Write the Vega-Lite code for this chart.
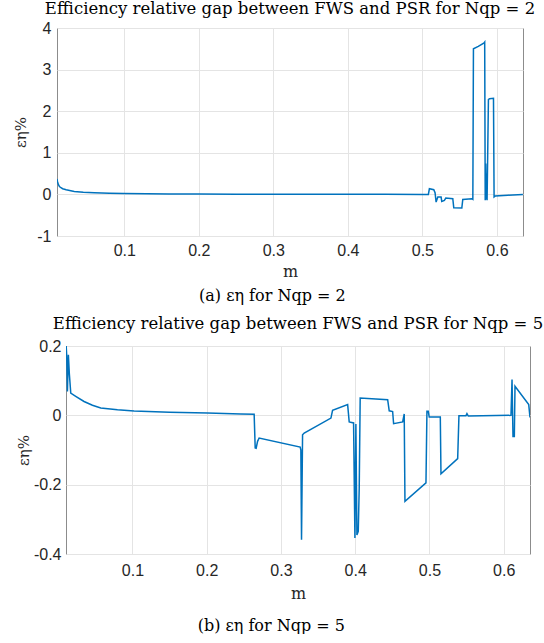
{
  "$schema": "https://vega.github.io/schema/vega-lite/v6.json",
  "padding": {"top": 0, "left": 9, "right": 0, "bottom": 0},
  "background": "white",
  "config": {
    "view": {"stroke": "#8c8c8c", "strokeWidth": 1},
    "axis": {
      "domain": false,
      "ticks": false,
      "grid": true,
      "gridColor": "#e4e4e4",
      "gridWidth": 1,
      "labelFont": "Liberation Sans",
      "labelFontSize": 16,
      "labelColor": "#262626",
      "titleFont": "DejaVu Serif",
      "titleFontWeight": "normal",
      "titleColor": "#262626",
      "titleFontSize": 15
    },
    "title": {"font": "DejaVu Serif", "fontWeight": "normal", "fontSize": 16.5, "color": "#000000"}
  },
  "spacing": 11,
  "vconcat": [
    {
      "title": {"text": "(a) εη for Nqp = 2", "orient": "bottom", "anchor": "middle", "font": "DejaVu Serif", "fontSize": 16, "fontWeight": "normal", "offset": 8},
      "spacing": 0,
      "hconcat": [
        {
          "width": 3.3,
          "height": 208,
          "view": {"stroke": null},
          "data": {"values": []},
          "mark": "point"
        },
        {
          "title": {"text": "Efficiency relative gap between FWS and PSR for Nqp = 2", "offset": 3},
          "width": 466,
          "height": 208,
          "data": {"values": [
            {"m": 0.0097, "e": 0.37}, {"m": 0.0105, "e": 0.30}, {"m": 0.0115, "e": 0.24}, {"m": 0.013, "e": 0.19},
            {"m": 0.015, "e": 0.16}, {"m": 0.0173, "e": 0.137}, {"m": 0.022, "e": 0.11}, {"m": 0.0329, "e": 0.072},
            {"m": 0.045, "e": 0.053}, {"m": 0.0597, "e": 0.040}, {"m": 0.08, "e": 0.03}, {"m": 0.0996, "e": 0.022},
            {"m": 0.13, "e": 0.016}, {"m": 0.16, "e": 0.012}, {"m": 0.2, "e": 0.009}, {"m": 0.25, "e": 0.006},
            {"m": 0.3, "e": 0.004}, {"m": 0.35, "e": 0.003}, {"m": 0.4, "e": 0.002}, {"m": 0.45, "e": 0.001},
            {"m": 0.5, "e": 0.0}, {"m": 0.508, "e": 0.0}, {"m": 0.5094, "e": 0.136}, {"m": 0.5153, "e": 0.112},
            {"m": 0.517, "e": 0.04}, {"m": 0.5184, "e": -0.184}, {"m": 0.5207, "e": -0.064}, {"m": 0.5251, "e": -0.064},
            {"m": 0.526, "e": -0.168}, {"m": 0.5295, "e": -0.144}, {"m": 0.5314, "e": -0.088}, {"m": 0.5408, "e": -0.104},
            {"m": 0.5421, "e": -0.32}, {"m": 0.5529, "e": -0.328}, {"m": 0.5542, "e": -0.12}, {"m": 0.5663, "e": -0.104},
            {"m": 0.5677, "e": -0.12}, {"m": 0.5685, "e": 3.50}, {"m": 0.575, "e": 3.56}, {"m": 0.5828, "e": 3.64},
            {"m": 0.5836, "e": 3.66}, {"m": 0.5843, "e": -0.14}, {"m": 0.585, "e": 0.74}, {"m": 0.5856, "e": -0.12},
            {"m": 0.5862, "e": 0.5}, {"m": 0.5868, "e": -0.14}, {"m": 0.5886, "e": 2.28}, {"m": 0.59, "e": 2.30},
            {"m": 0.5954, "e": 2.31}, {"m": 0.5962, "e": -0.06}, {"m": 0.5975, "e": -0.04}, {"m": 0.6146, "e": -0.02},
            {"m": 0.6349, "e": 0.0}
          ]},
          "mark": {"type": "line", "color": "#0072BD", "strokeWidth": 1.5, "clip": true},
          "encoding": {
            "x": {"field": "m", "type": "quantitative", "scale": {"domain": [0.0097, 0.635], "nice": false, "zero": false},
                  "axis": {"values": [0.1, 0.2, 0.3, 0.4, 0.5, 0.6], "labelExpr": "'' + datum.value", "title": "m", "labelPadding": 6, "titlePadding": 5, "titleFontSize": 16}},
            "y": {"field": "e", "type": "quantitative", "scale": {"domain": [-1, 4], "nice": false},
                  "axis": {"values": [-1, 0, 1, 2, 3, 4], "labelExpr": "'' + datum.value", "title": "εη%", "labelPadding": 6, "titlePadding": 8}}
          }
        }
      ]
    },
    {
      "title": {"text": "(b) εη for Nqp = 5", "orient": "bottom", "anchor": "middle", "dx": -5, "font": "DejaVu Serif", "fontSize": 16, "fontWeight": "normal", "offset": 16},
      "spacing": 0,
      "hconcat": [
        {
          "width": 5.4,
          "height": 208,
          "view": {"stroke": null},
          "data": {"values": []},
          "mark": "point"
        },
        {
          "title": {"text": "Efficiency relative gap between FWS and PSR for Nqp = 5", "offset": 6},
          "width": 464,
          "height": 208,
          "data": {"values": [
            {"m": 0.0105, "e": 0.21}, {"m": 0.0115, "e": 0.17}, {"m": 0.0124, "e": 0.069}, {"m": 0.0137, "e": 0.175},
            {"m": 0.015, "e": 0.12}, {"m": 0.0169, "e": 0.064}, {"m": 0.0236, "e": 0.055}, {"m": 0.0348, "e": 0.040},
            {"m": 0.0461, "e": 0.029}, {"m": 0.0573, "e": 0.021}, {"m": 0.0798, "e": 0.016}, {"m": 0.1022, "e": 0.0125},
            {"m": 0.15, "e": 0.009}, {"m": 0.2011, "e": 0.0066}, {"m": 0.246, "e": 0.004}, {"m": 0.2639, "e": 0.003},
            {"m": 0.2653, "e": -0.094}, {"m": 0.2666, "e": -0.095}, {"m": 0.2685, "e": -0.075}, {"m": 0.2706, "e": -0.0655},
            {"m": 0.3259, "e": -0.0915}, {"m": 0.3268, "e": -0.10}, {"m": 0.3277, "e": -0.359}, {"m": 0.3291, "e": -0.056},
            {"m": 0.3313, "e": -0.051}, {"m": 0.3673, "e": -0.0078}, {"m": 0.3695, "e": 0.0144}, {"m": 0.3898, "e": 0.031},
            {"m": 0.3919, "e": -0.019}, {"m": 0.3978, "e": -0.022}, {"m": 0.3996, "e": -0.354}, {"m": 0.4009, "e": -0.025},
            {"m": 0.4023, "e": -0.345}, {"m": 0.4041, "e": -0.335}, {"m": 0.4054, "e": -0.21}, {"m": 0.4067, "e": 0.05},
            {"m": 0.4437, "e": 0.045}, {"m": 0.4458, "e": 0.013}, {"m": 0.4504, "e": 0.011}, {"m": 0.4517, "e": -0.024},
            {"m": 0.4639, "e": -0.019}, {"m": 0.466, "e": 0.004}, {"m": 0.467, "e": -0.248}, {"m": 0.4953, "e": -0.195},
            {"m": 0.4966, "e": 0.0115}, {"m": 0.4984, "e": 0.0115}, {"m": 0.4997, "e": -0.005}, {"m": 0.5146, "e": -0.005},
            {"m": 0.5155, "e": -0.169}, {"m": 0.538, "e": -0.125}, {"m": 0.5397, "e": -0.001}, {"m": 0.5492, "e": -0.001},
            {"m": 0.5505, "e": 0.005}, {"m": 0.5523, "e": -0.002}, {"m": 0.6098, "e": 0.0}, {"m": 0.6112, "e": 0.103},
            {"m": 0.6125, "e": -0.061}, {"m": 0.6143, "e": -0.061}, {"m": 0.6152, "e": 0.084}, {"m": 0.6337, "e": 0.031},
            {"m": 0.6354, "e": -0.006}
          ]},
          "mark": {"type": "line", "color": "#0072BD", "strokeWidth": 1.5, "clip": true},
          "encoding": {
            "x": {"field": "m", "type": "quantitative", "scale": {"domain": [0.0105, 0.6354], "nice": false, "zero": false},
                  "axis": {"values": [0.1, 0.2, 0.3, 0.4, 0.5, 0.6], "labelExpr": "'' + datum.value", "title": "m", "labelPadding": 8, "titlePadding": 7, "titleFontSize": 16}},
            "y": {"field": "e", "type": "quantitative", "scale": {"domain": [-0.4, 0.2], "nice": false},
                  "axis": {"values": [-0.4, -0.2, 0, 0.2], "labelExpr": "'' + datum.value", "title": "εη%", "labelPadding": 5, "titlePadding": 2}}
          }
        }
      ]
    }
  ]
}
